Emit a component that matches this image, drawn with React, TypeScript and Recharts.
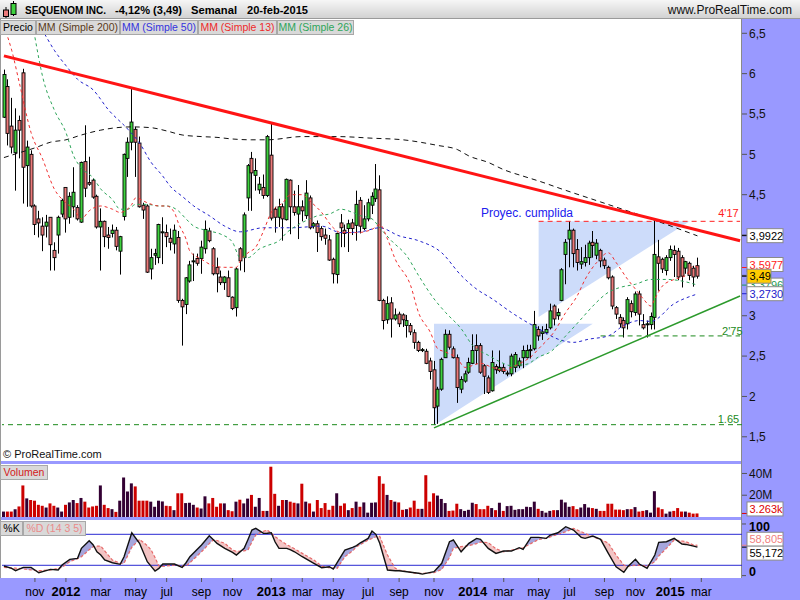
import React from 'react';
import { ComposedChart, Bar, Line, Area, XAxis, YAxis, ReferenceLine, ReferenceDot, Cell } from 'recharts';

const FONT = '"Liberation Sans", Arial, sans-serif';
const PURPLE = '#9999ff';
const SLOTS = 191; // 180 weekly candles + empty weeks up to the right edge

// weekly candles, sep-2011 .. 20-feb-2015 (index 0..179)
const open = [
  5.46, 5.84, 5.35, 5.02, 5.42, 6.01, 4.86, 5.0, 4.36, 4.2,
  4.11, 4.11, 4.22, 3.81, 4.0, 4.26, 4.59, 4.22, 4.35, 4.34,
  4.16, 4.91, 4.65, 4.68, 4.48, 4.1, 4.17, 4.0, 4.02, 4.06,
  3.8, 4.23, 4.95, 5.15, 5.31, 5.14, 4.37, 4.36, 3.58, 3.75,
  3.72, 4.03, 4.03, 3.96, 3.89, 3.97, 3.19, 3.14, 3.43, 3.67,
  3.71, 3.71, 3.83, 4.05, 3.83, 3.6, 3.48, 3.41, 3.47, 3.23,
  3.1, 3.83, 3.72, 4.46, 4.95, 4.74, 4.56, 4.59, 4.49, 4.99,
  4.32, 4.22, 4.35, 4.19, 4.68, 4.35, 4.26, 4.35, 4.24, 4.46,
  4.11, 4.14, 4.08, 4.0, 3.94, 3.7, 3.51, 4.15, 4.06, 4.08,
  4.15, 4.12, 4.43, 4.08, 4.2, 4.37, 4.45, 4.56, 3.19, 2.95,
  3.16, 2.96, 3.02, 3.01, 2.88, 2.88, 2.79, 2.67, 2.57, 2.56,
  2.44, 2.33, 1.88, 2.09, 2.48, 2.77, 2.59, 2.48, 2.09, 2.19,
  2.3, 2.41, 2.63, 2.63, 2.38, 2.23, 2.07, 2.37, 2.32, 2.36,
  2.28, 2.28, 2.36, 2.38, 2.48, 2.48, 2.57, 2.59, 2.83, 2.78,
  2.79, 2.85, 3.12, 3.0, 3.19, 3.76, 3.95, 4.06, 3.82, 3.64,
  3.66, 3.72, 3.91, 3.75, 3.81, 3.69, 3.6, 3.48, 3.1, 2.98,
  2.94, 2.9, 3.15, 3.04, 3.27, 2.89, 2.89, 2.89, 2.98, 3.73,
  3.7, 3.56, 3.72, 3.81, 3.8, 3.72, 3.59, 3.65, 3.59, 3.62,
];
const high = [
  6.05, 5.93, 5.7, 5.57, 5.48, 6.06, 5.17, 5.05, 4.38, 4.3,
  4.22, 4.25, 4.22, 3.91, 4.24, 4.45, 4.59, 4.53, 4.84, 4.37,
  4.91, 5.36, 4.97, 4.7, 4.5, 4.33, 4.18, 4.1, 4.13, 4.1,
  3.99, 5.01, 5.21, 5.82, 5.34, 5.22, 4.4, 4.38, 3.83, 3.83,
  4.14, 4.22, 4.13, 4.08, 4.13, 4.05, 3.21, 3.48, 3.68, 3.77,
  3.77, 3.93, 4.18, 4.09, 3.85, 3.72, 3.56, 3.49, 3.56, 3.24,
  3.6, 3.85, 4.28, 4.88, 5.03, 4.95, 4.72, 4.75, 5.24, 5.38,
  4.35, 4.45, 4.39, 4.7, 4.69, 4.55, 4.62, 4.43, 4.68, 4.49,
  4.16, 4.18, 4.11, 4.08, 4.0, 3.72, 4.03, 4.26, 4.13, 4.19,
  4.2, 4.55, 4.47, 4.37, 4.45, 4.53, 4.88, 4.74, 3.21, 3.24,
  3.23, 3.09, 3.05, 3.03, 3.01, 2.91, 2.83, 2.69, 2.6, 2.59,
  2.48, 2.44, 2.12, 2.48, 2.83, 2.82, 2.62, 2.52, 2.25, 2.32,
  2.48, 2.77, 2.77, 2.66, 2.4, 2.26, 2.57, 2.4, 2.57, 2.4,
  2.32, 2.53, 2.55, 2.48, 2.63, 2.64, 2.64, 3.06, 2.87, 2.87,
  2.9, 3.15, 3.14, 3.09, 3.59, 3.95, 4.17, 4.08, 3.95, 3.85,
  3.88, 3.93, 4.05, 3.95, 3.83, 3.72, 3.62, 3.5, 3.12, 3.02,
  2.98, 3.23, 3.19, 3.3, 3.31, 3.02, 2.94, 3.04, 4.18, 3.94,
  3.72, 3.75, 3.87, 3.87, 3.84, 3.75, 3.68, 3.67, 3.62, 3.72,
];
const low = [
  5.45, 5.11, 5.01, 4.55, 4.95, 4.39, 4.35, 4.34, 4.0, 3.97,
  3.8, 3.97, 3.56, 3.56, 3.77, 4.22, 4.03, 4.14, 4.22, 4.18,
  4.15, 4.47, 4.61, 4.45, 4.08, 3.56, 3.85, 3.83, 3.97, 3.81,
  3.51, 4.18, 4.72, 5.05, 4.72, 4.34, 4.2, 3.53, 3.45, 3.63,
  3.65, 3.64, 3.85, 3.81, 3.77, 3.16, 2.63, 3.02, 3.41, 3.43,
  3.62, 3.52, 3.77, 3.91, 3.5, 3.29, 3.38, 3.32, 3.23, 3.07,
  2.99, 3.56, 3.54, 4.3, 4.3, 4.55, 4.51, 4.45, 4.47, 4.18,
  4.03, 4.1, 3.93, 4.18, 4.01, 4.24, 3.95, 4.17, 4.2, 4.07,
  4.08, 3.79, 3.93, 3.88, 3.68, 3.4, 3.4, 3.85, 3.85, 3.79,
  4.0, 3.93, 4.02, 4.06, 4.17, 4.26, 4.41, 3.18, 2.83, 2.9,
  2.73, 2.94, 2.86, 2.86, 2.73, 2.76, 2.59, 2.55, 2.55, 2.4,
  2.21, 1.65, 1.66, 2.07, 2.48, 2.58, 2.47, 1.92, 2.04, 2.17,
  2.28, 2.4, 2.4, 2.28, 2.03, 2.03, 2.06, 2.28, 2.3, 2.28,
  2.25, 2.25, 2.3, 2.35, 2.35, 2.47, 2.47, 2.57, 2.69, 2.7,
  2.77, 2.83, 2.88, 2.95, 3.18, 3.39, 3.6, 3.6, 3.56, 3.58,
  3.61, 3.63, 3.72, 3.7, 3.6, 3.58, 3.45, 3.08, 2.96, 2.85,
  2.73, 2.83, 2.98, 3.0, 2.88, 2.83, 2.73, 2.83, 2.83, 3.31,
  3.53, 3.5, 3.68, 3.48, 3.44, 3.35, 3.52, 3.44, 3.36, 3.46,
];
const close = [
  5.99, 5.26, 5.09, 5.3, 5.3, 4.84, 5.09, 4.36, 4.13, 4.15,
  4.0, 4.16, 3.88, 3.72, 4.22, 4.43, 4.2, 4.48, 4.53, 4.2,
  4.9, 4.58, 4.63, 4.47, 4.1, 4.17, 3.98, 3.97, 4.06, 3.86,
  3.98, 5.0, 5.15, 5.4, 5.15, 4.35, 4.31, 3.54, 3.72, 3.77,
  4.13, 4.04, 3.98, 3.91, 4.06, 3.19, 3.11, 3.47, 3.63, 3.68,
  3.65, 3.85, 4.07, 3.93, 3.52, 3.52, 3.41, 3.48, 3.24, 3.09,
  3.58, 3.68, 4.25, 4.86, 4.77, 4.8, 4.63, 4.49, 5.22, 4.21,
  4.22, 4.35, 4.2, 4.69, 4.35, 4.28, 4.35, 4.3, 4.52, 4.09,
  4.14, 4.03, 3.98, 3.96, 3.69, 3.52, 4.02, 4.09, 4.02, 4.14,
  4.08, 4.38, 4.11, 4.2, 4.4, 4.48, 4.57, 3.19, 2.94, 3.15,
  2.96, 3.01, 2.9, 2.95, 2.94, 2.8, 2.67, 2.57, 2.58, 2.41,
  2.31, 1.86, 2.09, 2.46, 2.77, 2.61, 2.48, 2.11, 2.21, 2.28,
  2.42, 2.57, 2.57, 2.3, 2.25, 2.05, 2.42, 2.33, 2.36, 2.31,
  2.29, 2.5, 2.52, 2.44, 2.57, 2.57, 2.58, 2.89, 2.75, 2.8,
  2.83, 3.06, 2.96, 3.04, 3.57, 3.91, 4.06, 3.77, 3.66, 3.67,
  3.72, 3.9, 3.87, 3.9, 3.68, 3.62, 3.47, 3.12, 3.02, 2.9,
  2.85, 3.2, 3.05, 3.27, 3.02, 2.85, 2.9, 2.99, 3.76, 3.65,
  3.58, 3.72, 3.82, 3.76, 3.48, 3.49, 3.67, 3.5, 3.48, 3.49,
];
// volume, millions
const volume = [
  5, 5, 5, 7.2, 9.7, 29, 17.1, 15.6, 15, 11.2,
  10.3, 8.7, 12.5, 10.3, 8.7, 5, 11.2, 13.4, 15.6, 12.8,
  17.5, 14.1, 8.7, 9.7, 10.3, 29, 11.2, 8.2, 7.2, 4.7,
  15, 36.3, 23.4, 30.9, 28.1, 15, 15, 15, 14.1, 9.4,
  15, 14.3, 10.3, 10, 6.3, 21.8, 21.8, 12.8, 13.1, 11.2,
  8.7, 7.8, 19, 12.5, 17.5, 9.4, 12.5, 12.5, 6.3, 5.3,
  14.1, 15.9, 12.5, 16.9, 20.3, 9.4, 17.5, 5.6, 5.6, 46.2,
  21.3, 10.3, 15.6, 15.6, 14.1, 13.1, 12.5, 30.6, 14.1, 12.5,
  5, 15.6, 8.2, 12.8, 6.6, 10.3, 21.8, 10.3, 12.5, 6.3,
  8.2, 14.1, 9.4, 13.4, 4, 13.1, 13.4, 37.5, 30.6, 20.3,
  15.6, 14.1, 13.4, 6.6, 7.2, 8.7, 15, 7.5, 7.5, 38.4,
  14.1, 21.8, 19.7, 16.6, 12.8, 5.6, 5.9, 12.2, 7.2, 5.6,
  6.6, 13.1, 11.9, 7.2, 7.2, 10.3, 8.2, 6.3, 13.1, 5.6,
  10, 10.3, 6.6, 7.2, 7.2, 9.4, 9.1, 14.1, 7.5, 5.6,
  4, 5.6, 6.3, 6.3, 15.9, 13.4, 9.4, 10, 7.2, 8.7,
  11.9, 8.7, 8.2, 7.5, 5.6, 5.6, 12.2, 12.2, 6.8, 6.8,
  6.3, 7.2, 7.2, 9.1, 5, 5.6, 6.3, 4, 23.7, 8.7,
  7.2, 3.1, 5, 5.6, 8.2, 5, 5, 4, 3.1, 3.26,
];

// moving averages: [week index, value]
const ma200: [number, number][] = [
  [0, 4.96], [4, 5.02], [8, 5.08], [12, 5.15], [16, 5.18], [20, 5.24], [25, 5.3], [29, 5.33],
  [33, 5.34], [38, 5.33], [42, 5.29], [46, 5.24], [51, 5.22], [55, 5.21], [59, 5.19], [64, 5.18],
  [68, 5.18], [77, 5.22], [86, 5.22], [95, 5.2], [103, 5.18], [112, 5.11], [117, 5.06], [120, 4.98],
  [125, 4.9], [129, 4.81], [134, 4.73], [138, 4.67], [144, 4.57], [154, 4.41], [167, 4.2], [179, 3.99],
];
const ma50: [number, number][] = [
  [9, 6.62], [11, 6.45], [13, 6.29], [16, 6.1], [19, 5.93], [23, 5.8], [27, 5.55], [32, 5.31],
  [35, 5.14], [38, 4.9], [41, 4.73], [43, 4.6], [46, 4.48], [49, 4.36], [53, 4.24], [57, 4.11],
  [61, 4.04], [67, 4.09], [74, 4.09], [82, 4.11], [87, 4.03], [92, 4.04], [97, 4.09], [102, 3.99],
  [107, 3.93], [113, 3.78], [118, 3.5], [122, 3.33], [126, 3.21], [131, 3.04], [135, 2.92], [138, 2.84],
  [143, 2.71], [147, 2.67], [151, 2.71], [156, 2.75], [160, 2.88], [164, 2.94], [167, 2.93], [173, 3.15],
  [179, 3.27],
];
const ma13: [number, number][] = [
  [1, 6.45], [2, 6.29], [4, 5.88], [7, 5.27], [10, 4.94], [13, 4.57], [16, 4.4], [18, 4.32],
  [20, 4.2], [22, 4.3], [25, 4.36], [28, 4.32], [30, 4.28], [33, 4.38], [34, 4.46], [37, 4.4],
  [40, 4.36], [42, 4.36], [44, 4.28], [45, 4.15], [47, 3.95], [48, 3.8], [51, 3.7], [54, 3.62],
  [57, 3.6], [60, 3.6], [61, 3.68], [63, 3.78], [65, 3.85], [67, 4.05], [69, 4.28], [72, 4.4],
  [74, 4.5], [77, 4.5], [79, 4.42], [82, 4.28], [85, 4.09], [87, 4.03], [91, 4.03], [95, 4.07],
  [97, 4.13], [99, 3.95], [101, 3.7], [105, 3.37], [107, 3.04], [110, 2.8], [112, 2.59], [114, 2.55],
  [117, 2.47], [119, 2.36], [123, 2.41], [126, 2.36], [129, 2.32], [131, 2.36], [134, 2.43], [136, 2.49],
  [138, 2.59], [142, 2.8], [145, 3.04], [148, 3.25], [150, 3.45], [153, 3.66], [156, 3.78], [158, 3.66],
  [161, 3.45], [163, 3.33], [165, 3.21], [167, 3.12], [168, 3.21], [170, 3.37], [173, 3.45], [176, 3.5],
  [178, 3.62], [179, 3.6],
];
const ma26: [number, number][] = [
  [8, 6.45], [10, 5.96], [13, 5.55], [16, 5.27], [18, 4.98], [20, 4.83], [23, 4.71], [25, 4.57],
  [28, 4.44], [30, 4.32], [32, 4.32], [34, 4.38], [37, 4.38], [40, 4.36], [42, 4.36], [45, 4.3],
  [47, 4.2], [49, 4.11], [53, 4.05], [56, 4.01], [59, 3.91], [61, 3.72], [63, 3.72], [66, 3.83],
  [68, 3.87], [71, 3.93], [73, 4.03], [76, 4.13], [79, 4.2], [81, 4.24], [84, 4.26], [87, 4.32],
  [90, 4.28], [92, 4.24], [95, 4.2], [97, 4.09], [100, 3.93], [104, 3.74], [107, 3.5], [111, 3.21],
  [114, 3.04], [118, 2.84], [121, 2.63], [125, 2.51], [128, 2.43], [131, 2.38], [135, 2.4], [138, 2.49],
  [141, 2.55], [145, 2.75], [149, 2.96], [152, 3.12], [156, 3.29], [159, 3.35], [163, 3.39], [167, 3.45],
  [171, 3.45], [175, 3.43], [179, 3.38],
];

// stochastic (14 3 5): [week index, %K, %D]
const stoch: [number, number, number][] = [
  [0, 18.6, 16], [2, 14, 15], [3, 9.5, 14.5], [5, 16, 13], [7, 16, 11], [9, 5.6, 9.5], [12, 12, 11],
  [14, 10.8, 14], [15, 20.5, 16], [17, 31.5, 27], [19, 33.5, 33], [20, 52.8, 36.6], [22, 67.5, 50],
  [23, 60, 56], [24, 46.2, 57], [25, 40, 57.2], [26, 30.2, 48], [28, 25, 30.2], [30, 21.9, 24],
  [31, 36.6, 23.8], [33, 83, 55], [35, 62.5, 70.2], [37, 26.9, 58], [38, 18, 49.5], [39, 8.9, 35],
  [40, 14, 18.6], [41, 22.4, 18], [44, 22.4, 20.5], [46, 16, 19], [47, 25, 18.6], [48, 36.6, 25],
  [51, 59.2, 46.2], [53, 77.2, 62], [54, 70, 69], [55, 62.5, 68], [57, 52.8, 62.5], [59, 45, 49.5],
  [60, 39.8, 47], [62, 52.8, 48], [63, 70, 49.5], [64, 88.2, 65], [65, 91.5, 78.6], [67, 81.8, 86],
  [68, 82, 88.2], [69, 83, 82], [70, 65, 75.3], [71, 52.8, 70], [73, 52.8, 60], [74, 50, 56],
  [75, 46.2, 52], [77, 36.6, 43.1], [80, 23.8, 30.2], [82, 15.3, 18.6], [84, 17.2, 15], [85, 12.8, 14.5],
  [86, 25, 14.1], [88, 49.5, 36.6], [90, 54.7, 48], [91, 58, 56], [92, 63.6, 60], [94, 72.1, 69],
  [95, 86.3, 72], [96, 80, 75.3], [97, 62.5, 76], [99, 10.8, 39.8], [101, 9.5, 14.1], [102, 9.5, 10.8],
  [106, 5.6, 5], [107, 4.5, 4.3], [108, 3, 4.5], [111, 7.6, 5.6], [113, 23.8, 12], [115, 65.7, 35],
  [116, 69, 52.8], [118, 46.2, 56], [120, 62.5, 58], [122, 72.1, 62], [123, 70.2, 65], [125, 52.8, 64],
  [127, 43.1, 52], [129, 47.6, 46.2], [131, 47.6, 49.5], [133, 54.1, 52], [134, 50.8, 54], [136, 74.1, 62],
  [138, 74.1, 70], [140, 72.1, 72], [141, 78.6, 75], [143, 83, 80], [145, 94.7, 85], [147, 88.2, 91.5],
  [149, 74.1, 85], [150, 72.1, 81.8], [152, 76.6, 75.3], [154, 70.2, 70], [156, 43.1, 63], [158, 17.2, 39.8],
  [160, 6.3, 20.5], [161, 17.2, 18], [163, 31.5, 20.5], [164, 22.4, 20], [166, 14.1, 18.6], [168, 39.8, 26.9],
  [169, 64.4, 38], [171, 65.7, 52.8], [173, 72.1, 69], [175, 61.1, 67], [176, 60.4, 65.7], [178, 57.2, 59.2],
  [179, 55.2, 58.8],
];

// drawings: projection triangles [index, low, high], lines [index, value]
const flag1: [number, number, number][] = [[111, 1.64, 2.9], [152, 2.9, 2.9]];
const flag2: [number, number, number][] = [[138, 2.985, 4.17], [177, 4.17, 4.17]];
const resistance: [number, number][] = [[0, 6.22], [190, 3.93]];
const support: [number, number][] = [[111, 1.61], [190, 3.245]];

const tickIdx = [8, 16, 25, 34, 42, 51, 59, 69, 77, 85, 94, 102, 111, 121, 129, 138, 146, 155, 163, 172, 180];
const tickLabels = ['nov', '2012', 'mar', 'may', 'jul', 'sep', 'nov', '2013', 'mar', 'may', 'jul', 'sep', 'nov', '2014', 'mar', 'may', 'jul', 'sep', 'nov', '2015', 'mar'];
const priceTicks = [1.5, 2, 2.5, 3, 3.5, 4, 4.5, 5, 5.5, 6, 6.5];
const PRICE_DOMAIN = [1.2, 6.677];

const rows: any[] = Array.from({ length: SLOTS }, (_, i) => {
  const r: any = { i };
  if (i < open.length) {
    r.o = open[i]; r.h = high[i]; r.l = low[i]; r.c = close[i];
    r.hl = [low[i], high[i]];
    r.vol = volume[i];
  }
  return r;
});
const put = (key: string, pts: [number, number][]) => pts.forEach(([i, v]) => { rows[i][key] = v; });
put('m200', ma200); put('m50', ma50); put('m13', ma13); put('m26', ma26);
flag1.forEach(([i, lo, hi]) => { rows[i].f1 = [lo, hi]; });
flag2.forEach(([i, lo, hi]) => { rows[i].f2 = [lo, hi]; });
stoch.forEach(([i, k, d]) => { rows[i].k = k; rows[i].d = d; rows[i].kd = [d, k]; });

const UP_FILL = '#a6a6dc';
const DN_FILL = '#f3c4c4';
// gradient stops where %K crosses %D
const kdStops = (() => {
  const i0 = stoch[0][0], iN = stoch[stoch.length - 1][0];
  const col = (s: number) => (s >= 0 ? UP_FILL : DN_FILL);
  let prev = stoch[0];
  let sp = prev[1] - prev[2];
  const out = [{ off: 0, c: col(sp) }];
  for (let j = 1; j < stoch.length; j++) {
    const cur = stoch[j];
    const s = cur[1] - cur[2];
    if ((s >= 0) !== (sp >= 0)) {
      const t = prev[0] + (cur[0] - prev[0]) * (sp / (sp - s));
      const off = (t - i0) / (iN - i0);
      out.push({ off, c: col(sp) }, { off, c: col(s) });
    }
    prev = cur; sp = s;
  }
  out.push({ off: 1, c: col(sp) });
  return out;
})();

const Candle = (p: any) => {
  const { x, y, width, height, payload } = p;
  if (!payload || payload.o == null) return null;
  const { o, h, l, c } = payload;
  const cx = Math.round(x + width / 2) + 0.5;
  const k = h > l ? height / (h - l) : 0;
  const yo = y + (h - o) * k;
  const yc = y + (h - c) * k;
  const top = Math.min(yo, yc);
  const bh = Math.max(Math.abs(yc - yo), 1);
  return (
    <g>
      <line x1={cx} x2={cx} y1={y} y2={y + height} stroke="#000" strokeWidth={1} />
      <rect x={cx - 1.5} y={top} width={3} height={bh} fill={c >= o ? '#3fd23f' : '#ec7a7a'} stroke="#000" strokeWidth={0.9} />
    </g>
  );
};

const tag = (text: string, color: string, bg: string, w: number, dy = 0) => (p: any) => {
  const y = p.cy + dy;
  return (
    <g>
      <line x1={742} x2={747} y1={p.cy} y2={p.cy} stroke={color} strokeWidth={1} />
      <rect x={747} y={y - 7} width={w} height={14} fill={bg} stroke="#8a8a8a" strokeWidth={1} />
      <text x={749.5} y={y + 4} fontSize={11} fill={color} fontFamily={FONT}>{text}</text>
    </g>
  );
};

const note = (text: string, color: string, size = 11, weight = 'normal') => (p: any) => (
  <text x={p.cx} y={p.cy} textAnchor="middle" fontSize={size} fontWeight={weight} fill={color} fontFamily={FONT}>{text}</text>
);

const MonthTick = (p: any) => {
  const lab = tickLabels[tickIdx.indexOf(p.payload.value)] || '';
  const yr = /^\d/.test(lab);
  return (
    <text x={p.x} y={76} textAnchor="middle" fontSize={yr ? 13 : 12} fontWeight={yr ? 'bold' : 'normal'} fill="#000" fontFamily={FONT}>{lab}</text>
  );
};

const StochTick = (p: any) => {
  const v = p.payload.value;
  return (
    <g>
      <line x1={742} x2={746} y1={p.y} y2={p.y} stroke="#555" />
      <text x={749} y={p.y + (v === 100 ? 7.5 : 0)} fontSize={12.5} fontWeight="bold" fill="#000" fontFamily={FONT}>{v}</text>
    </g>
  );
};

const box = (left: number, width: number, color: string, text: string, top = 20) => (
  <div style={{ position: 'absolute', left, top, width, height: 13, background: '#d9d9d9', border: '1px solid #a8a8a8', color, fontSize: 10.5, lineHeight: '13px', textAlign: 'center', whiteSpace: 'nowrap', overflow: 'hidden', fontFamily: FONT, boxSizing: 'content-box' }}>{text}</div>
);

export default function App() {
  return (
    <div style={{ position: 'absolute', left: 0, top: 0, width: 800, height: 600, overflow: 'hidden', background: '#fff', fontFamily: FONT }}>
      {/* purple frame: right scale, separators, time axis */}
      <div style={{ position: 'absolute', left: 742, top: 19, width: 58, height: 581, background: PURPLE }} />
      <div style={{ position: 'absolute', left: 0, top: 461, width: 800, height: 3, background: PURPLE }} />
      <div style={{ position: 'absolute', left: 0, top: 517, width: 800, height: 3, background: PURPLE }} />
      <div style={{ position: 'absolute', left: 0, top: 578, width: 800, height: 22, background: PURPLE }} />
      <div style={{ position: 'absolute', left: 0, top: 19, width: 1, height: 559, background: '#9a9a9a' }} />
      <div style={{ position: 'absolute', left: 741, top: 19, width: 1, height: 559, background: '#8a8a8a' }} />

      {/* price panel */}
      <div style={{ position: 'absolute', left: 0, top: 19 }}>
        <ComposedChart width={800} height={442} data={rows} margin={{ top: 0, right: 0, bottom: 0, left: 2 }}>
          <XAxis dataKey="i" scale="band" hide />
          <YAxis orientation="right" width={58} domain={PRICE_DOMAIN} allowDataOverflow ticks={priceTicks}
            tickFormatter={(v: number) => String(v).replace('.', ',')} axisLine={false} tickSize={5}
            tickLine={{ stroke: '#555' }} tick={{ fill: '#111', fontSize: 12, fontFamily: FONT }} interval={0} />
          <Area dataKey="f1" type="linear" connectNulls stroke="none" fill="#cddcfa" fillOpacity={1} isAnimationActive={false} />
          <Area dataKey="f2" type="linear" connectNulls stroke="none" fill="#cddcfa" fillOpacity={1} isAnimationActive={false} />
          <ReferenceLine y={1.65} stroke="#1c8a1c" strokeDasharray="5 4" strokeWidth={1} />
          <ReferenceLine segment={[{ x: 138, y: 4.17 }, { x: 190, y: 4.17 }]} stroke="#ff2020" strokeDasharray="5 4" strokeWidth={1} />
          <ReferenceLine segment={[{ x: 154, y: 2.75 }, { x: 190, y: 2.75 }]} stroke="#1c8a1c" strokeDasharray="5 4" strokeWidth={1} />
          <Bar dataKey="hl" shape={Candle} barSize={3} isAnimationActive={false} />
          <Line dataKey="m200" type="monotone" connectNulls dot={false} stroke="#111" strokeWidth={1} strokeDasharray="5 4" isAnimationActive={false} />
          <Line dataKey="m50" type="monotone" connectNulls dot={false} stroke="#2222cc" strokeWidth={1} strokeDasharray="3 3" isAnimationActive={false} />
          <Line dataKey="m26" type="monotone" connectNulls dot={false} stroke="#2ea55a" strokeWidth={1} strokeDasharray="3 3" isAnimationActive={false} />
          <Line dataKey="m13" type="monotone" connectNulls dot={false} stroke="#f03030" strokeWidth={1} strokeDasharray="3 3" isAnimationActive={false} />
          <ReferenceLine segment={resistance.map(([x, y]) => ({ x, y }))} stroke="#ff1414" strokeWidth={3} />
          <ReferenceLine segment={support.map(([x, y]) => ({ x, y }))} stroke="#2c9a2c" strokeWidth={1.5} />
          <ReferenceDot x={135} y={4.22} r={0} shape={note('Proyec. cumplida', '#2020ee', 12)} />
          <ReferenceDot x={187} y={4.225} r={0} shape={note("4'17", '#ff2020', 11)} />
          <ReferenceDot x={188} y={2.76} r={0} shape={note("2'75", '#1c8a1c', 11)} />
          <ReferenceDot x={187} y={1.67} r={0} shape={note('1.65', '#1c8a1c', 11)} />
        </ComposedChart>
      </div>

      {/* last-value tags, drawn above the price scale */}
      <div style={{ position: 'absolute', left: 0, top: 19 }}>
        <ComposedChart width={800} height={442} data={rows} margin={{ top: 0, right: 0, bottom: 0, left: 2 }}>
          <XAxis dataKey="i" scale="band" hide />
          <YAxis orientation="right" width={58} domain={PRICE_DOMAIN} allowDataOverflow tick={false} axisLine={false} tickLine={false} />
          <ReferenceDot x={190} y={3.9922} r={0} shape={tag('3,9922', '#000', '#fff', 36)} />
          <ReferenceDot x={190} y={3.5977} r={0} shape={tag('3,5977', '#ff1a1a', '#fff', 36, -3)} />
          <ReferenceDot x={190} y={3.3796} r={0} shape={tag('3,3796', '#1f9a55', '#fff', 36)} />
          <ReferenceDot x={190} y={3.273} r={0} shape={tag('3,2730', '#2020cc', '#fff', 36)} />
          <ReferenceDot x={190} y={3.49} r={0} shape={tag('3,49', '#000', '#ffcc00', 24)} />
        </ComposedChart>
      </div>

      {/* volume panel */}
      <div style={{ position: 'absolute', left: 0, top: 464 }}>
        <ComposedChart width={800} height={53} data={rows} margin={{ top: 0, right: 0, bottom: 0, left: 2 }}>
          <XAxis dataKey="i" scale="band" hide />
          <YAxis orientation="right" width={58} domain={[0, 48.7]} allowDataOverflow ticks={[20, 40]}
            tickFormatter={(v: number) => `${v}M`} axisLine={false} tickSize={5} tickLine={{ stroke: '#555' }}
            tick={{ fill: '#111', fontSize: 12, fontFamily: FONT }} interval={0} />
          <Bar dataKey="vol" barSize={3} isAnimationActive={false}>
            {rows.map((r) => (
              <Cell key={r.i} fill={r.c != null && r.c < r.o ? '#cc0000' : '#330033'} />
            ))}
          </Bar>
          <ReferenceDot x={190} y={3.26} r={0} shape={tag('3.263k', '#dd0000', '#fff', 36, -4.5)} />
        </ComposedChart>
      </div>

      {/* stochastic panel + time axis */}
      <div style={{ position: 'absolute', left: 0, top: 520 }}>
        <ComposedChart width={800} height={80} data={rows} margin={{ top: 0, right: 0, bottom: 0, left: 2 }}>
          <defs>
            <linearGradient id="kdFill" x1="0" y1="0" x2="1" y2="0">
              {kdStops.map((s, j) => (
                <stop key={j} offset={s.off} stopColor={s.c} />
              ))}
            </linearGradient>
          </defs>
          <XAxis dataKey="i" scale="band" ticks={tickIdx} interval={0} height={22} axisLine={false}
            tickSize={4} tickLine={{ stroke: '#555' }} tick={MonthTick} />
          <YAxis orientation="right" width={58} domain={[-4.6, 107.7]} allowDataOverflow ticks={[0, 100]}
            axisLine={false} tickLine={false} tick={StochTick} interval={0} />
          <ReferenceLine y={80} stroke="#2a2ad2" strokeWidth={1} />
          <ReferenceLine y={20} stroke="#2a2ad2" strokeWidth={1} />
          <Area dataKey="kd" type="linear" connectNulls stroke="none" fill="url(#kdFill)" fillOpacity={1} isAnimationActive={false} />
          <Line dataKey="d" type="linear" connectNulls dot={false} stroke="#e66a6a" strokeWidth={1.2} strokeDasharray="3 2" isAnimationActive={false} />
          <Line dataKey="k" type="linear" connectNulls dot={false} stroke="#111" strokeWidth={1.4} isAnimationActive={false} />
          <ReferenceDot x={190} y={58.805} r={0} shape={tag('58,805', '#f08080', '#fff', 36, -6)} />
          <ReferenceDot x={190} y={55.172} r={0} shape={tag('55,172', '#000', '#fff', 36, 6)} />
        </ComposedChart>
      </div>

      {/* header */}
      <div style={{ position: 'absolute', left: 0, top: 0, width: 800, height: 18, background: 'linear-gradient(#f6f6f6, #d2d2d2)', borderBottom: '1px solid #9a9a9a' }} />
      <svg width={800} height={19} style={{ position: 'absolute', left: 0, top: 0 }}>
        <line x1={6} x2={6} y1={7} y2={18} stroke="#000" />
        <rect x={3.5} y={10} width={5} height={6.5} fill="#ec7a7a" stroke="#000" />
        <line x1={13.5} x2={13.5} y1={1} y2={16} stroke="#000" />
        <rect x={11} y={3.5} width={5} height={11} fill="#3fd23f" stroke="#000" />
        <text x={25} y={14} fontSize={10.5} fontWeight="bold" fontFamily={FONT} textLength={81} lengthAdjust="spacingAndGlyphs">SEQUENOM INC.</text>
        <text x={115} y={14} fontSize={10.5} fontWeight="bold" fontFamily={FONT} textLength={67} lengthAdjust="spacingAndGlyphs">-4,12% (3,49)</text>
        <text x={191} y={14} fontSize={10.5} fontWeight="bold" fontFamily={FONT} textLength={46} lengthAdjust="spacingAndGlyphs">Semanal</text>
        <text x={247} y={14} fontSize={10.5} fontWeight="bold" fontFamily={FONT} textLength={61} lengthAdjust="spacingAndGlyphs">20-feb-2015</text>
        <text x={792} y={14} fontSize={12} textAnchor="end" fontFamily={FONT} fill="#111">www.ProRealTime.com</text>
      </svg>

      {/* legend row */}
      {box(0, 34, '#000', 'Precio')}
      {box(36, 82, '#5a3a1a', 'MM (Simple 200)')}
      {box(120, 76, '#3333dd', 'MM (Simple 50)')}
      {box(198, 77, '#ee2a2a', 'MM (Simple 13)')}
      {box(277, 75, '#2ea55a', 'MM (Simple 26)')}

      <div style={{ position: 'absolute', left: 3, top: 448, fontSize: 11, color: '#111', fontFamily: FONT }}>© ProRealTime.com</div>
      {box(0, 46, '#d42020', 'Volumen', 465)}
      {box(0, 21, '#000', '%K', 521)}
      {box(23, 61, '#ea8a8a', '%D (14 3 5)', 521)}
    </div>
  );
}
